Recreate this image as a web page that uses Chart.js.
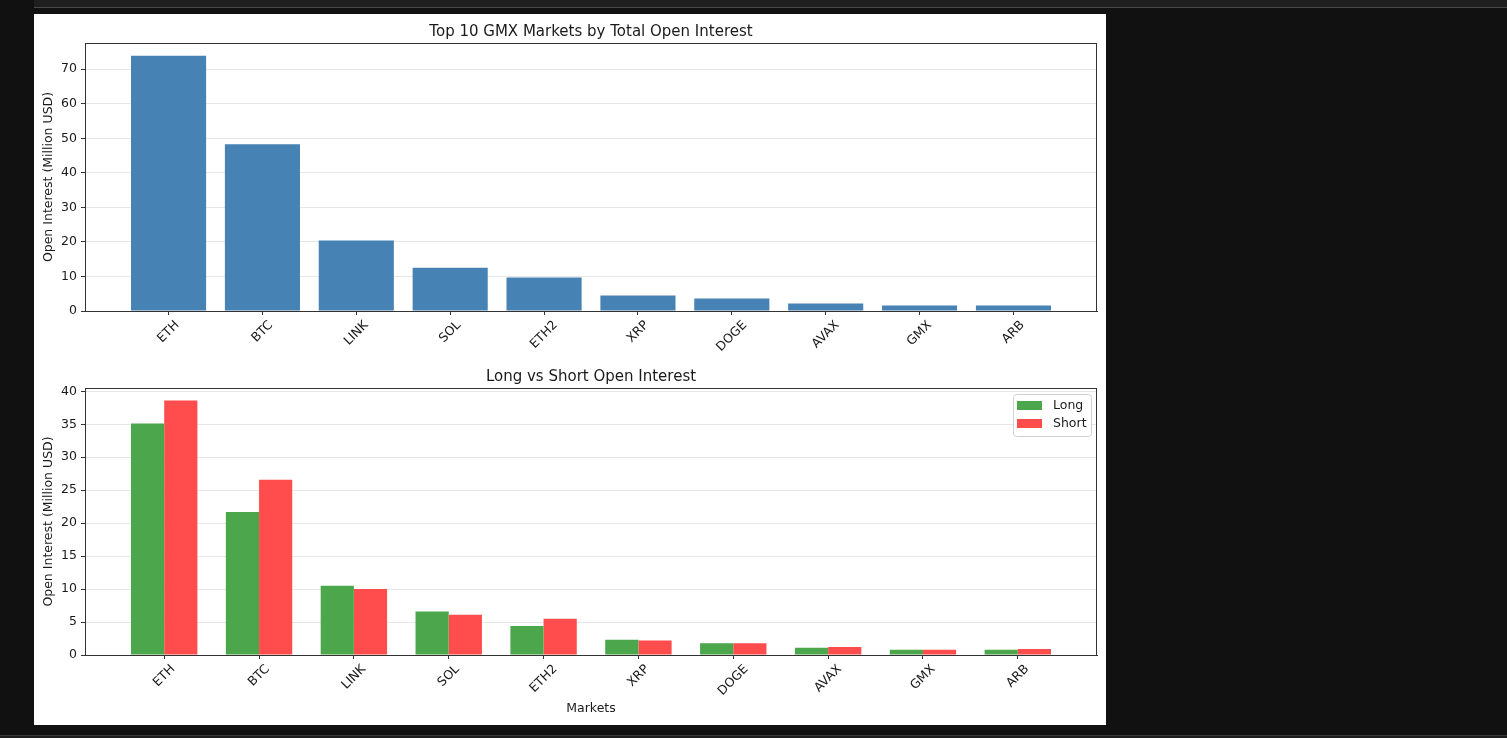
<!DOCTYPE html>
<html>
<head>
<meta charset="utf-8">
<script src="https://cdn.jsdelivr.net/npm/chart.js@4.4.1/dist/chart.umd.min.js"></script>
<style>
  html, body { margin: 0; padding: 0; background: #111; width: 1507px; height: 738px; overflow: hidden; }
  #topbar { position: absolute; left: 34px; right: 0; top: 0; height: 7px; background: #1f1f1f; border-bottom: 1px solid #4a4a4a; }
  #panel { position: absolute; left: 34px; top: 14px; width: 1072px; height: 711px; background: #fff; }
  #c1 { position: absolute; left: 0; top: 0; }
  #c2 { position: absolute; left: 0; top: 342px; }
  #bottombar { position: absolute; left: 0; right: 0; top: 735px; height: 3px; background: #1e1e1e; border-top: 1px solid #3a3a3a; }
</style>
</head>
<body>
<div id="topbar"></div>
<div id="panel">
  <canvas id="c1" width="1072" height="342"></canvas>
  <canvas id="c2" width="1072" height="369"></canvas>
</div>
<div id="bottombar"></div>
<script>
// market names and values (million USD)
const markets = ['ETH', 'BTC', 'LINK', 'SOL', 'ETH2', 'XRP', 'DOGE', 'AVAX', 'GMX', 'ARB'];
const totalOI = [73.9, 48.3, 20.4, 12.5, 9.7, 4.5, 3.6, 2.2, 1.6, 1.6];
const longOI  = [35.1, 21.7, 10.5, 6.6, 4.4, 2.3, 1.8, 1.1, 0.8, 0.8];
const shortOI = [38.6, 26.6, 10.0, 6.1, 5.5, 2.2, 1.8, 1.2, 0.8, 0.9];

const FONT = 'DejaVu Sans';
const TICK_SIZE = 12.5;
Chart.defaults.font.family = FONT;
Chart.defaults.font.size = TICK_SIZE;
Chart.defaults.color = '#1a1a1a';

const gridColor = 'rgba(176,176,176,0.3)';

// matplotlib look: frame, title, rotated centred x labels, legend in the corner
const mplPlugin = {
  id: 'mpl',
  afterDraw(chart, args, opts) {
    const { ctx, chartArea: a } = chart;
    const x = chart.scales.x;
    ctx.save();
    ctx.strokeStyle = '#333';
    ctx.lineWidth = 1;
    ctx.strokeRect(Math.round(a.left) + 0.5, Math.round(a.top) + 0.5,
      Math.round(a.right - a.left) - 1, Math.round(a.bottom - a.top));

    ctx.fillStyle = '#1a1a1a';
    ctx.font = '15px "' + FONT + '"';
    ctx.textAlign = 'center';
    ctx.textBaseline = 'middle';
    ctx.fillText(opts.title, (a.left + a.right) / 2, a.top - 11);

    ctx.font = TICK_SIZE + 'px "' + FONT + '"';
    const h = TICK_SIZE * 1.17;
    markets.forEach((m, i) => {
      const px = x.getPixelForValue(i);
      const w = ctx.measureText(m).width;
      const half = (w + h) * Math.SQRT1_2 / 2;
      ctx.save();
      ctx.translate(px, a.bottom + 7 + half);
      ctx.rotate(-Math.PI / 4);
      ctx.fillText(m, 0, 0);
      ctx.restore();
    });

    if (opts.legend) {
      const bw = 78, bh = 42;
      const lx = a.right - 6 - bw, ly = a.top + 6;
      ctx.fillStyle = 'rgba(255,255,255,0.8)';
      ctx.strokeStyle = '#d0d0d0';
      ctx.beginPath();
      ctx.roundRect(lx + 0.5, ly + 0.5, bw, bh, 3);
      ctx.fill();
      ctx.stroke();
      ctx.textAlign = 'left';
      chart.data.datasets.forEach((ds, i) => {
        const cy = ly + 11.5 + i * 18;
        ctx.fillStyle = ds.backgroundColor;
        ctx.fillRect(lx + 4, cy - 4.5, 25, 9);
        ctx.fillStyle = '#1a1a1a';
        ctx.fillText(ds.label, lx + 40, cy);
      });
    }
    ctx.restore();
  }
};

function xAxis(min, max, height, title) {
  return {
    type: 'linear',
    min: min,
    max: max,
    offset: false,
    afterBuildTicks: axis => { axis.ticks = markets.map((_, i) => ({ value: i })); },
    afterFit: axis => { axis.height = height; },
    ticks: { display: false },
    grid: { offset: false, drawOnChartArea: false, drawTicks: true, tickLength: 4, tickColor: '#333' },
    border: { color: '#333' },
    title: title ? { display: true, text: title, padding: { top: 0, bottom: 8.5 }, font: { size: TICK_SIZE } } : { display: false }
  };
}

function yAxis(max, step) {
  return {
    min: 0,
    max: max,
    z: 1,
    afterFit: axis => { axis.width = 51; },
    ticks: { stepSize: step, includeBounds: false, padding: 4 },
    grid: { color: gridColor, tickColor: '#333', tickLength: 4 },
    border: { color: '#333' },
    title: { display: true, text: 'Open Interest (Million USD)', padding: { top: 7, bottom: 0 }, font: { size: TICK_SIZE } }
  };
}

new Chart(document.getElementById('c1'), {
  type: 'bar',
  data: {
    datasets: [{
      label: 'Total',
      data: totalOI.map((v, i) => ({ x: i, y: v })),
      backgroundColor: '#4682b4',
      categoryPercentage: 0.8,
      barPercentage: 1
    }]
  },
  options: {
    responsive: false,
    animation: false,
    layout: { padding: { top: 29, right: 9, bottom: 0, left: 0 } },
    plugins: { legend: { display: false }, tooltip: { enabled: false }, mpl: { title: 'Top 10 GMX Markets by Total Open Interest' } },
    scales: { x: xAxis(-0.89, 9.89, 45), y: yAxis(77.6, 10) }
  },
  plugins: [mplPlugin]
});

new Chart(document.getElementById('c2'), {
  type: 'bar',
  data: {
    datasets: [
      { label: 'Long', data: longOI.map((v, i) => ({ x: i, y: v })), backgroundColor: '#4ca64c', categoryPercentage: 0.7, barPercentage: 1 },
      { label: 'Short', data: shortOI.map((v, i) => ({ x: i, y: v })), backgroundColor: '#ff4c4c', categoryPercentage: 0.7, barPercentage: 1 }
    ]
  },
  options: {
    responsive: false,
    animation: false,
    layout: { padding: { top: 32, right: 9, bottom: 0, left: 0 } },
    plugins: { legend: { display: false }, tooltip: { enabled: false }, mpl: { title: 'Long vs Short Open Interest', legend: true } },
    scales: { x: xAxis(-0.835, 9.835, 70, 'Markets'), y: yAxis(40.5, 5) }
  },
  plugins: [mplPlugin]
});
</script>
</body>
</html>
